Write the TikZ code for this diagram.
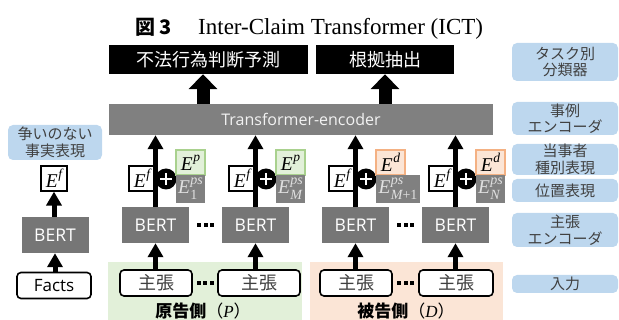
\documentclass[tikz,border=0pt]{standalone}
\usepackage{fontspec}
\setmainfont{Open Sans}
\newfontfamily\jp{Noto Sans CJK JP}
\newfontfamily\timesf{Liberation Serif}
\usetikzlibrary{arrows.meta,calc}
\definecolor{lblue}{HTML}{BDD7EE}
\definecolor{gbg}{HTML}{E2F0D9}
\definecolor{obg}{HTML}{FBE5D6}
\definecolor{gbd}{HTML}{A9D18E}
\definecolor{obd}{HTML}{F4B183}
\definecolor{tgray}{HTML}{808080}
\definecolor{bgray}{HTML}{767676}
\definecolor{dtext}{HTML}{404040}
\newcommand{\Esup}[1]{{\timesf\itshape E\kern0.02em\raisebox{0.45em}{\fontsize{13.5}{13.5}\selectfont #1}}}
\newcommand{\Esupsub}[2]{{\timesf\itshape E\kern0.02em\raisebox{-0.34em}{\fontsize{14}{13}\selectfont\shortstack[l]{#1\\#2}}}}
\tikzset{
  lab/.style={fill=lblue, rounded corners=5pt, inner sep=0pt, align=center, minimum width=106pt,
    font=\jp\fontsize{15}{16.5}\selectfont, text=dtext},
  blk/.style={fill=black, text=white, inner sep=0pt, minimum height=29pt, font=\jp\fontsize{18}{20}\selectfont},
  bert/.style={fill=bgray, text=white, minimum width=67pt, minimum height=36pt, inner sep=0pt,
    font=\fontsize{17.5}{17.5}\selectfont},
  claim/.style={draw=black, line width=1.6pt, fill=white, rounded corners=4pt, minimum height=26pt,
    inner sep=0pt, font=\jp\fontsize{18}{18}\selectfont, text=dtext},
  ef/.style={draw=black, line width=1.2pt, fill=white, minimum width=26pt, minimum height=25pt,
    inner sep=0pt, font=\fontsize{19.5}{19.5}\selectfont},
  etype/.style={line width=1.2pt, minimum width=29pt, minimum height=25pt, inner sep=0pt,
    font=\fontsize{19.5}{19.5}\selectfont},
  eps/.style={fill=tgray, text=black!12, minimum height=28pt, inner sep=0pt, font=\fontsize{19.5}{19.5}\selectfont},
  pluscirc/.style={circle, fill=black, minimum size=21pt, inner sep=0pt},
  upar/.style={line width=5pt, -{Triangle[width=15pt,length=14pt]}},
  bigar/.style={line width=13pt, -{Triangle[width=28pt,length=15pt]}},
}
\begin{document}
\begin{tikzpicture}[x=1pt,y=-1pt]
\useasboundingbox (0,0) rectangle (619,320);
% title
\node[anchor=base west, inner sep=0pt, font=\jp\bfseries\fontsize{20}{20}\selectfont] (fignum) at (135,35) {図 3};
\node[anchor=base west, inner sep=0pt, font=\timesf\fontsize{23}{23}\selectfont] (title) at (198,35) {Inter-Claim Transformer (ICT)};
% backgrounds
\fill[gbg] (108,262) rectangle (302,320);
\fill[obg] (310,262) rectangle (503,320);
% right labels
\node[lab, minimum height=38pt] (ltask) at (565,62) {タスク別\\分類器};
\node[lab, minimum height=33pt] (lcase) at (565,118.5) {事例\\エンコーダ};
\node[lab, minimum height=31pt] (lparty) at (565,159.5) {当事者\\種別表現};
\node[lab, minimum height=23pt] (lpos) at (565,190.5) {位置表現};
\node[lab, minimum height=34pt] (lcenc) at (565,230) {主張\\エンコーダ};
\node[lab, minimum height=18pt] (linput) at (565,284) {入力};
\node[lab, minimum width=94pt, minimum height=35pt] (lfact) at (55,142.5) {争いのない\\事実表現};
% top boxes
\node[blk, minimum width=199pt] (pred) at (208.5,59.5) {不法行為判断予測};
\node[blk, minimum width=138pt] (ext) at (385,59.5) {根拠抽出};
\node[fill=tgray, text=white!95!black, minimum width=384pt, minimum height=31pt, inner sep=0pt,
  font=\fontsize{16}{16}\selectfont] (trans) at (301,119.5) {Transformer-encoder};
\draw[bigar] (trans.north -| 203,0) -- (pred.south -| 203,0);
\draw[bigar] (trans.north -| ext.south) -- (ext.south);
% left column
\node[ef] (ef0) at (54,178.5) {\Esup{f}};
\node[bert] (bert0) at (55,235) {BERT};
\node[claim, minimum width=74pt, text=black, font=\fontsize{17}{17}\selectfont] (facts) at (54,285.5) {Facts};
\draw[upar] (bert0.north -| ef0.south) -- (ef0.south);
\draw[upar] (facts.north -| bert0.south) -- (bert0.south);
% claims
\node[claim, minimum width=72pt] (claim1) at (156,283) {主張};
\node[claim, minimum width=82pt] (claim2) at (259,283) {主張};
\node[claim, minimum width=72pt] (claim3) at (356,283) {主張};
\node[claim, minimum width=74pt] (claim4) at (456,283) {主張};
% columns
\foreach \i/\x in {1/122,2/222,3/322,4/422}{
  \node[bert] (bert\i) at (\x+33.5,225) {BERT};
  \node[ef] (ef\i) at (\x+20,178.5) {\Esup{f}};
  \draw[upar] (claim\i.north -| bert\i.south) -- (bert\i.south);
  \draw[upar] (bert\i.north) -- (trans.south -| bert\i.north);
  \node[pluscirc] (plus\i) at (\x+44,179) {};
  \draw[white, line width=2.8pt] ($(plus\i)+(-6,0)$) -- ($(plus\i)+(6,0)$)
        ($(plus\i)+(0,-6)$) -- ($(plus\i)+(0,6)$);
}
\node[etype, draw=gbd, fill=gbg] (et1) at (190.5,162.5) {\Esup{p}};
\node[etype, draw=gbd, fill=gbg] (et2) at (290.5,162.5) {\Esup{p}};
\node[etype, draw=obd, fill=obg] (et3) at (390.5,162.5) {\Esup{d}};
\node[etype, draw=obd, fill=obg] (et4) at (490.5,162.5) {\Esup{d}};
\node[eps, minimum width=29pt] (eps1) at (190.5,189) {\Esupsub{ps}{\upshape 1}};
\node[eps, minimum width=29pt] (eps2) at (290.5,189) {\Esupsub{ps}{M}};
\node[eps, minimum width=44pt] (eps3) at (398,189) {\Esupsub{ps}{M\upshape +1}};
\node[eps, minimum width=29pt] (eps4) at (490.5,189) {\Esupsub{ps}{N}};
% dots
\coordinate (d1) at ($(bert1.east)!0.5!(bert2.west)$);
\coordinate (d2) at ($(bert3.east)!0.5!(bert4.west)$);
\coordinate (d3) at ($(claim1.east)!0.5!(claim2.west)$);
\coordinate (d4) at ($(claim3.east)!0.5!(claim4.west)$);
\foreach \d in {d1,d2,d3,d4}{
  \foreach \k in {-6.5,0,6.5}{
    \fill ($(\d)+(\k-2,-2)$) rectangle ($(\d)+(\k+2,2)$);
  }
}
% bottom labels
\node[inner sep=0pt, font=\jp\fontsize{17}{17}\selectfont] (plab) at (203,311) {{\bfseries 原告側}（{\timesf\itshape P}）};
\node[inner sep=0pt, font=\jp\fontsize{17}{17}\selectfont] (dlab) at (406,311) {{\bfseries 被告側}（{\timesf\itshape D}）};
\end{tikzpicture}
\end{document}
